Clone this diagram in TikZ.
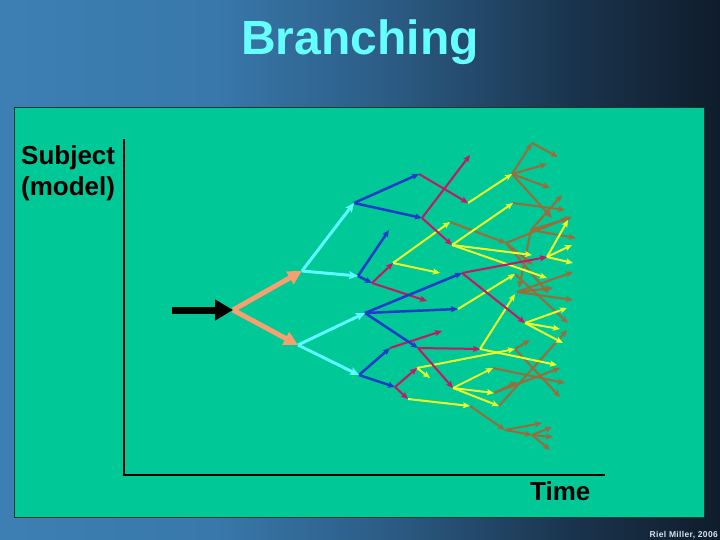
\documentclass[tikz,border=0pt]{standalone}
\usepackage{fontspec}
\setmainfont{Liberation Sans}
\usetikzlibrary{arrows.meta}
\definecolor{panelgreen}{RGB}{0,200,150}
\definecolor{panelrim}{RGB}{10,60,45}
\definecolor{salmonc}{RGB}{244,160,112}
\definecolor{cyanc}{RGB}{95,255,255}
\definecolor{bluec}{RGB}{30,60,200}
\definecolor{magc}{RGB}{195,25,100}
\definecolor{yelc}{RGB}{235,255,40}
\definecolor{brnc}{RGB}{155,108,58}
\definecolor{titlec}{RGB}{102,255,255}
\definecolor{creditc}{RGB}{215,225,235}
\pgfdeclarehorizontalshading{bgshade}{100bp}{rgb(0bp)=(0.24,0.50,0.70); rgb(25bp)=(0.24,0.50,0.70); rgb(40bp)=(0.22,0.47,0.67); rgb(52bp)=(0.17,0.36,0.52); rgb(65bp)=(0.10,0.20,0.30); rgb(75bp)=(0.06,0.11,0.17); rgb(100bp)=(0.06,0.11,0.17)}
\tikzset{
  thin arrow/.style={line width=2pt,-{Stealth[length=7pt,width=6pt,inset=1.5pt]}},
  brn/.style={thin arrow,draw=brnc,fill=brnc},
  yel/.style={thin arrow,draw=yelc,fill=yelc},
  mag/.style={thin arrow,draw=magc,fill=magc},
  blu/.style={thin arrow,draw=bluec,fill=bluec,line width=2.5pt},
  cya/.style={draw=cyanc,line width=3pt,-{Stealth[length=9pt,width=8pt,inset=2pt]}},
  ora/.style={draw=salmonc,line width=5pt,-{Triangle[length=14pt,width=14pt]}},
  blk/.style={draw=black,line width=7pt,-{Triangle[length=18pt,width=20pt]}},
  axis/.style={draw=black,line width=2.5pt},
  lbl/.style={inner sep=0pt,font=\fontsize{26}{30}\selectfont\bfseries}
}
\begin{document}
\begin{tikzpicture}[x=1pt,y=-1pt]
\useasboundingbox (0,0) rectangle (720,540);
\shade[shading=bgshade] (0,0) rectangle (720,540);
\draw[fill=panelgreen,draw=panelrim,line width=1pt] (14,108) rectangle (704,517);
% title and labels
\node[anchor=base,inner sep=0pt,text=titlec,font=\fontsize{48}{52}\selectfont\bfseries] (title) at (360,55) {Branching};
\node[lbl,anchor=base west] (subj) at (21,165) {Subject};
\node[lbl,anchor=base west] (model) at (21,196) {(model)};
\node[lbl,anchor=base west] (time) at (530,500) {Time};
\node[anchor=base east,inner sep=0pt,text=creditc,font=\fontsize{8.5}{10}\selectfont\bfseries\addfontfeature{LetterSpace=4}] (credit) at (718,537) {Riel Miller, 2006};
% axes
\coordinate (ytop) at (124,139);
\coordinate (orig) at (124,475);
\coordinate (xend) at (605,475);
\draw[axis] (ytop) -- (orig) -- (xend);
% tree coordinates
\coordinate (S) at (172,310); \coordinate (R) at (233,310);
\coordinate (A1) at (302,271); \coordinate (A2) at (298,345);
\coordinate (B1) at (354,203); \coordinate (B2) at (358,276); \coordinate (B3) at (365,313); \coordinate (B4) at (359,375);
\coordinate (C1) at (419,174); \coordinate (C2) at (422,218); \coordinate (C3) at (389,230); \coordinate (C4) at (372,283);
\coordinate (C5) at (462,273); \coordinate (C6) at (458,309); \coordinate (C7) at (418,348); \coordinate (C8) at (390,348); \coordinate (C9) at (395,387);
\coordinate (D1) at (468,203); \coordinate (D2) at (470,155); \coordinate (D3) at (452,245); \coordinate (D4) at (393,263);
\coordinate (D5) at (427,301); \coordinate (D6) at (547,257); \coordinate (D7) at (525,323); \coordinate (D8) at (480,349);
\coordinate (D9) at (453,388); \coordinate (D10) at (442,331); \coordinate (D11) at (417,368); \coordinate (D12) at (408,399);
\coordinate (E1) at (512,174); \coordinate (E2) at (513,203); \coordinate (E3) at (532,255); \coordinate (E4) at (547,278);
\coordinate (E5) at (450,222); \coordinate (E6) at (440,273); \coordinate (E7) at (515,274); \coordinate (E8) at (568,220);
\coordinate (E9) at (572,245); \coordinate (E10) at (573,263); \coordinate (E11) at (567,308); \coordinate (E12) at (560,329);
\coordinate (E13) at (563,343); \coordinate (E14) at (515,294); \coordinate (E15) at (515,349); \coordinate (E16) at (493,368);
\coordinate (E17) at (494,393); \coordinate (E18) at (499,406); \coordinate (E20) at (557,365); \coordinate (E21) at (430,378);
\coordinate (E22) at (470,406);
\coordinate (F1) at (506,243); \coordinate (G1) at (531,230); \coordinate (H1) at (517,292);
\coordinate (Q) at (505,430); \coordinate (Q2) at (532,435);
\coordinate (P1) at (532,143); \coordinate (P2) at (558,157); \coordinate (P3) at (547,164); \coordinate (P4) at (550,188);
\coordinate (P5) at (552,218); \coordinate (P6) at (565,210); \coordinate (P7) at (548,293); \coordinate (P8) at (533,265);
\coordinate (P9) at (562,195); \coordinate (P10) at (572,217); \coordinate (P11) at (576,238); \coordinate (P12) at (519,288);
\coordinate (P13) at (573,272); \coordinate (P14) at (553,288); \coordinate (P15) at (573,300); \coordinate (P16) at (568,323);
\coordinate (P17) at (530,340); \coordinate (P18) at (560,397); \coordinate (P19) at (567,330); \coordinate (P20) at (565,383);
\coordinate (P21) at (560,368); \coordinate (P22) at (542,423); \coordinate (P23) at (552,427); \coordinate (P24) at (553,437);
\coordinate (P25) at (550,450); \coordinate (P26) at (568,218); \coordinate (P27) at (517,382);
% brown generation
\draw[brn] (E1) -- (P1); \draw[brn] (P1) -- (P2); \draw[brn] (E1) -- (P3); \draw[brn] (E1) -- (P4); \draw[brn] (E1) -- (P5);
\draw[brn] (E2) -- (P6);
\draw[brn] (E5) -- (F1); \draw[brn] (F1) -- (P7); \draw[brn] (F1) -- (P8); \draw[brn] (F1) -- (P26);
\draw[brn] (G1) -- (P9); \draw[brn] (G1) -- (P10); \draw[brn] (G1) -- (P11); \draw[brn] (G1) -- (P12);
\draw[brn] (H1) -- (P13); \draw[brn] (H1) -- (P14); \draw[brn] (H1) -- (P15); \draw[brn] (E7) -- (P16);
\draw[brn] (E15) -- (P17); \draw[brn] (E15) -- (P18);
\draw[brn] (E18) -- (P19); \draw[brn] (E16) -- (P20); \draw[brn] (E17) -- (P21);
\draw[brn] (E17) -- (P27);
\draw[brn] (E22) -- (Q); \draw[brn] (Q) -- (P22); \draw[brn] (Q) -- (Q2);
\draw[brn] (Q2) -- (P23); \draw[brn] (Q2) -- (P24); \draw[brn] (Q2) -- (P25);
% yellow generation
\draw[yel] (D1) -- (E1);
\draw[yel] (D3) -- (E2); \draw[yel] (D3) -- (E3); \draw[yel] (D3) -- (E4);
\draw[yel] (D4) -- (E5); \draw[yel] (D4) -- (E6);
\draw[yel] (C6) -- (E7);
\draw[yel] (D6) -- (E8); \draw[yel] (D6) -- (E9); \draw[yel] (D6) -- (E10);
\draw[yel] (D7) -- (E11); \draw[yel] (D7) -- (E12); \draw[yel] (D7) -- (E13);
\draw[yel] (D8) -- (E14); \draw[yel] (D8) -- (E20);
\draw[yel] (D11) -- (E15); \draw[yel] (D11) -- (E21);
\draw[yel] (D9) -- (E16); \draw[yel] (D9) -- (E17); \draw[yel] (D9) -- (E18);
\draw[yel] (D12) -- (E22);
% magenta generation
\draw[mag] (C1) -- (D1);
\draw[mag] (C2) -- (D2); \draw[mag] (C2) -- (D3);
\draw[mag] (C4) -- (D4); \draw[mag] (C4) -- (D5);
\draw[mag] (C5) -- (D6); \draw[mag] (C5) -- (D7);
\draw[mag] (C7) -- (D8); \draw[mag] (C7) -- (D9);
\draw[mag] (C8) -- (D10);
\draw[mag] (C9) -- (D11); \draw[mag] (C9) -- (D12);
% blue generation
\draw[blu] (B1) -- (C1); \draw[blu] (B1) -- (C2);
\draw[blu] (B2) -- (C3); \draw[blu] (B2) -- (C4);
\draw[blu] (B3) -- (C5); \draw[blu] (B3) -- (C6); \draw[blu] (B3) -- (C7);
\draw[blu] (B4) -- (C8); \draw[blu] (B4) -- (C9);
% cyan generation
\draw[cya] (A1) -- (B1); \draw[cya] (A1) -- (B2);
\draw[cya] (A2) -- (B3); \draw[cya] (A2) -- (B4);
% orange
\draw[ora] (R) -- (A1); \draw[ora] (R) -- (A2);
% black start arrow
\draw[blk] (S) -- (R);
\end{tikzpicture}
\end{document}
